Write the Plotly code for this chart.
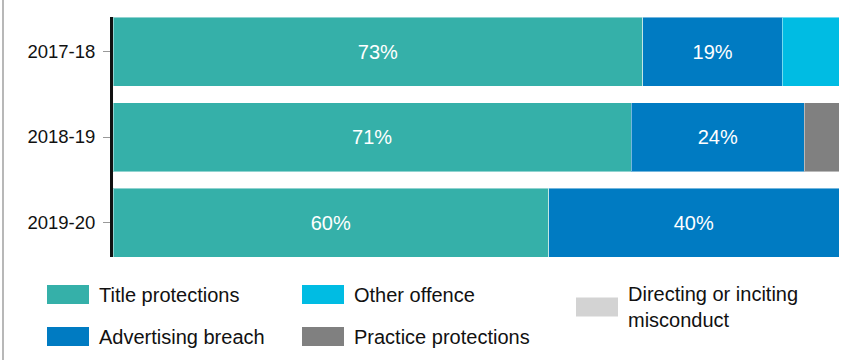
import plotly.graph_objects as go

years = ["2017-18", "2018-19", "2019-20"]
title_protections = [73.0, 71.4, 60.0]
advertising_breach = [19.2, 23.8, 40.0]
other_offence = [7.8, 0, 0]
practice_protections = [0, 4.8, 0]
directing_misconduct = [0, 0, 0]

series = [
    ("Title protections", title_protections, "#35b0a9"),
    ("Advertising breach", advertising_breach, "#007bc2"),
    ("Other offence", other_offence, "#00bce3"),
    ("Practice protections", practice_protections, "#808080"),
    ("Directing or inciting misconduct", directing_misconduct, "#d3d3d3"),
]

FONT = "Arial, Liberation Sans, sans-serif"
W, H = 850, 360
L, R, T, B = 113, 11, 17, 103
PW, PH = W - L - R, H - T - B


def px(x):
    return (x - L) / PW


def py(y):
    return (H - B - y) / PH


fig = go.Figure()

for name, vals, color in series:
    fig.add_trace(go.Bar(
        y=years, x=vals, name=name, orientation="h",
        marker=dict(color=color, line=dict(color="rgba(255,255,255,0.45)", width=1)),
        text=[f"{v:.0f}%" if v >= 10 else "" for v in vals],
        textposition="inside", insidetextanchor="middle",
        textfont=dict(family=FONT, size=20, color="white"),
        hovertemplate="%{y}: %{x:.0f}%<extra>" + name + "</extra>",
        showlegend=False,
    ))

# hand-built legend (wide rectangular swatches, 3 columns)
legend_items = [
    ("Title protections", "#35b0a9", 47, 294.5),
    ("Advertising breach", "#007bc2", 47, 336.5),
    ("Other offence", "#00bce3", 302, 294.5),
    ("Practice protections", "#808080", 302, 336.5),
    ("Directing or inciting<br>misconduct", "#d3d3d3", 576, 307),
]
shapes = []
annotations = []
for label, color, x0, yc in legend_items:
    shapes.append(dict(type="rect", xref="paper", yref="paper",
                       x0=px(x0), x1=px(x0 + 42), y0=py(yc + 9.5), y1=py(yc - 9.5),
                       fillcolor=color, line=dict(width=0), layer="above"))
    annotations.append(dict(x=px(x0 + 50), y=py(yc), xref="paper", yref="paper",
                            text=label, showarrow=False, xanchor="left", yanchor="middle",
                            align="left", font=dict(family=FONT, size=20, color="#111")))

# thin frame line at far left
shapes.append(dict(type="line", xref="paper", yref="paper",
                   x0=px(3), x1=px(3), y0=py(H), y1=py(0),
                   line=dict(color="#a0a0a0", width=1.5)))

fig.update_layout(
    barmode="stack",
    bargap=0.193,
    width=W, height=H,
    margin=dict(l=L, r=R, t=T, b=B),
    paper_bgcolor="white",
    plot_bgcolor="white",
    font=dict(family=FONT, size=18, color="#111"),
    shapes=shapes,
    annotations=annotations,
    showlegend=False,
)
fig.update_xaxes(range=[0, 100], visible=False, fixedrange=True)
fig.update_yaxes(
    categoryorder="array", categoryarray=years,
    range=[2.4035, -0.4035],
    showline=True, linecolor="#111", linewidth=3,
    ticks="outside", ticklen=7, tickcolor="#999", tickwidth=1,
    ticklabelstandoff=4,
    tickfont=dict(family=FONT, size=18.5, color="#111"),
    showgrid=False, zeroline=False, fixedrange=True,
)

# page has a default body margin; drop it so the chart sits at 0,0
fig.write_html("out.html", config={"displayModeBar": False},
               post_script="document.body.style.margin='0';")
